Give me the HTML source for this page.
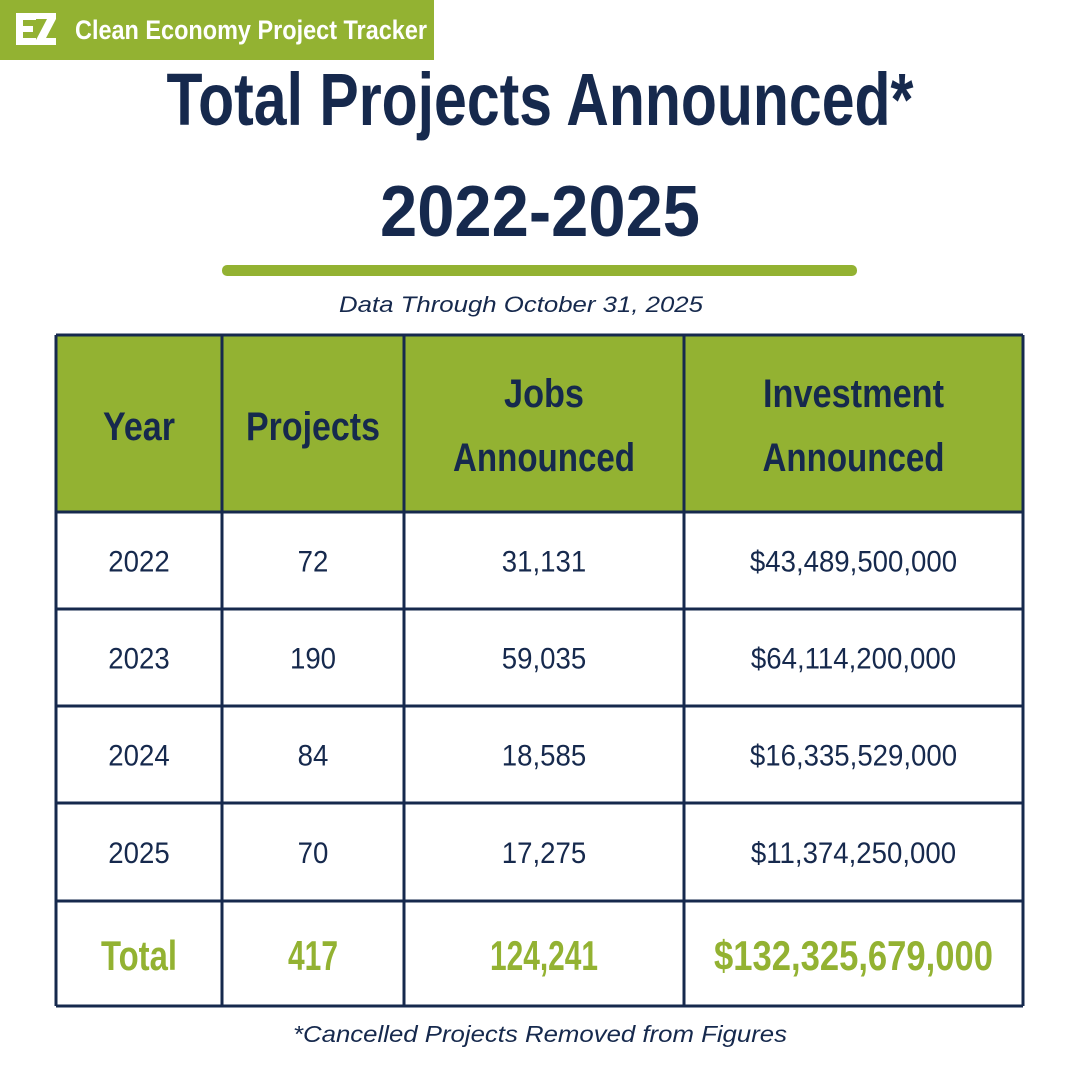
<!DOCTYPE html>
<html><head><meta charset="utf-8"><style>
html,body{margin:0;padding:0;background:#fff;}
svg{display:block;}
.c{font-family:"Liberation Sans Narrow","Liberation Sans",sans-serif;font-weight:bold;}
.d{font-family:"Liberation Sans",sans-serif;}
</style></head><body>
<svg id="s" width="1080" height="1080" viewBox="0 0 1080 1080" xmlns="http://www.w3.org/2000/svg">
<rect x="0" y="0" width="434" height="60" fill="#93b232"/>
<g fill="#fff">
<rect x="16" y="13" width="7" height="32"/><rect x="16" y="13" width="20" height="7"/><rect x="16" y="26" width="17" height="6"/><rect x="16" y="38" width="20" height="7"/>
<polygon points="36,13 56,13 56,19 46,38 56,38 56,45 36,45 36,40 47,19 36,19"/>
</g>
<text x="75" y="39" class="c" font-size="27" fill="#fff" textLength="352" lengthAdjust="spacingAndGlyphs" font-weight="normal">Clean Economy Project Tracker</text>
<text x="540" y="125" text-anchor="middle" class="c" font-size="74" fill="#16294d" textLength="747" lengthAdjust="spacingAndGlyphs">Total Projects Announced*</text>
<text x="540" y="236" text-anchor="middle" class="c" font-size="72" fill="#16294d" textLength="320" lengthAdjust="spacingAndGlyphs">2022-2025</text>
<rect x="222" y="265" width="635" height="11" rx="5" fill="#93b232"/>
<text x="521" y="312" text-anchor="middle" class="d" font-style="italic" font-size="22" fill="#16294d" textLength="364" lengthAdjust="spacingAndGlyphs">Data Through October 31, 2025</text>
<rect x="56" y="335" width="967" height="177" fill="#93b232"/>
<g id="tbl"></g>
<text x="540" y="1042" text-anchor="middle" class="d" font-style="italic" font-size="23" fill="#16294d" textLength="494" lengthAdjust="spacingAndGlyphs">*Cancelled Projects Removed from Figures</text>
</svg>
<script>
const years = ["2022","2023","2024","2025"];
const projects = ["72","190","84","70"];
const jobs = ["31,131","59,035","18,585","17,275"];
const investment = ["$43,489,500,000","$64,114,200,000","$16,335,529,000","$11,374,250,000"];
const totals = ["Total","417","124,241","$132,325,679,000"];
const NS="http://www.w3.org/2000/svg";
const g=document.getElementById('tbl');
const colX=[56,222,404,684,1023];
const rowY=[335,512,609,706,803,901,1006];
const navy="#16294d", green="#93b232";
function mk(tag,attrs){const e=document.createElementNS(NS,tag);for(const k in attrs)e.setAttribute(k,attrs[k]);g.appendChild(e);return e;}
function cx(i){return (colX[i]+colX[i+1])/2;}
function txt(x,y,s,size,fill,cls,len){const t=mk('text',{x:x,y:y,'text-anchor':'middle','font-size':size,fill:fill,class:cls});t.textContent=s;
  if(len){t.setAttribute('textLength',len);t.setAttribute('lengthAdjust','spacingAndGlyphs');}return t;}
// header
const hdr=[["Year"],["Projects"],["Jobs","Announced"],["Investment","Announced"]];
const hdrW=[[72],[134],[80,182],[181,182]];
hdr.forEach((h,i)=>{
  if(h.length===1){const t=txt(cx(i),440,h[0],40,navy,'c',hdrW[i][0]);
    
    }
  else h.forEach((s,j)=>{const t=txt(cx(i),[407,471][j],s,40,navy,'c',hdrW[i][j]);
    
    });
});
// data rows
years.forEach((y,r)=>{
  const vals=[y,projects[r],jobs[r],investment[r]];
  const base=(rowY[r+1]+rowY[r+2])/2+11;
  vals.forEach((v,c)=>{const t=txt(cx(c),base,v,30,navy,'d');
    const w=t.getComputedTextLength()*0.92;
    t.setAttribute('textLength',w);t.setAttribute('lengthAdjust','spacingAndGlyphs');
    
    });
});
const totW=[76,50,108,279];
totals.forEach((v,c)=>{const t=txt(cx(c),970,v,42,green,'c',totW[c]);
  
  });
// grid
rowY.forEach((y,i)=>{const l=mk('line',{x1:56,x2:1023,y1:y,y2:y,stroke:navy,'stroke-width':3});
  
  });
colX.forEach((x,i)=>{const l=mk('line',{x1:x,x2:x,y1:335,y2:1006,stroke:navy,'stroke-width':3});
  
  });
</script>
</body></html>
